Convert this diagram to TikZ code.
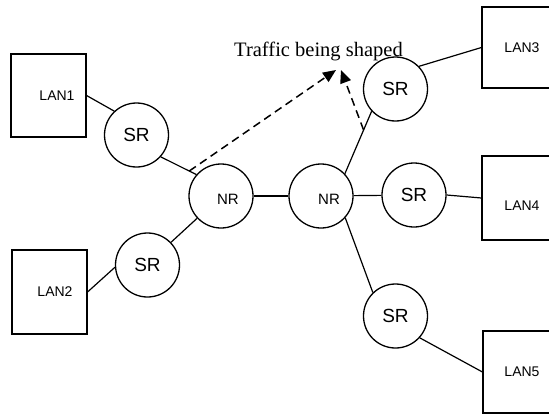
\documentclass[tikz,border=0pt]{standalone}
\usepackage{fontspec}
\setmainfont{Liberation Serif}
\setsansfont{Liberation Sans}
\usetikzlibrary{arrows.meta}

\begin{document}
\begin{tikzpicture}[x=1pt,y=-1pt,
  lanbox/.style={rectangle,draw,line width=1.1pt,inner sep=0pt},
  lantext/.style={font=\sffamily\fontsize{14}{14}\selectfont,inner sep=0pt},
  srnode/.style={circle,draw,line width=1.3pt,minimum size=64pt,inner sep=0pt,
    font=\sffamily\fontsize{19}{19}\selectfont},
  nrnode/.style={circle,draw,line width=1.3pt,minimum size=64pt,inner sep=0pt},
  nrtext/.style={font=\sffamily\fontsize{15}{15}\selectfont,inner sep=0pt},
  link/.style={line width=1.2pt},
  flow/.style={dashed,dash pattern=on 8pt off 5pt,line width=1.5pt,
    -{Triangle[length=13pt,width=11pt]}}]

\clip (0,0) rectangle (549,415);

% LAN segments
\node[lanbox,minimum width=75pt,minimum height=83pt] (lan1) at (48.5,95.5) {};
\node[lanbox,minimum width=75pt,minimum height=84pt] (lan2) at (49.5,292) {};
\node[lanbox,minimum width=80pt,minimum height=81pt] (lan3) at (522,47.5) {};
\node[lanbox,minimum width=80pt,minimum height=84pt] (lan4) at (522,198) {};
\node[lanbox,minimum width=80pt,minimum height=82pt] (lan5) at (523,372) {};

\node[lantext] (t1) at (57,96) {LAN1};
\node[lantext] (t2) at (55,292) {LAN2};
\node[lantext] (t3) at (522,48) {LAN3};
\node[lantext] (t4) at (522,206) {LAN4};
\node[lantext] (t5) at (522,372) {LAN5};

% edge (SR) and core (NR) routers
\node[srnode] (sr1) at (136.5,135) {SR};
\node[srnode] (sr2) at (147.5,265) {SR};
\node[srnode] (sr3) at (395.5,89) {SR};
\node[srnode] (sr4) at (414,195) {SR};
\node[srnode] (sr5) at (395.5,316) {SR};

\node[nrnode] (nr1) at (221,196) {};
\node[nrnode] (nr2) at (321,196) {};
\node[nrtext] (nt1) at (228,199) {NR};
\node[nrtext] (nt2) at (329,199) {NR};

% links
\draw[link] (lan1.east) -- (sr1.133);
\draw[link] (sr1.-42) -- coordinate[pos=0.8] (d1) (nr1.139);
\draw[link] (lan2.east) -- (sr2.184);
\draw[link] (sr2.44) -- (nr1.223);
\draw[link] (nr1) -- (nr2);
\draw[link] (nr2.43) -- coordinate[pos=0.7] (d2) (sr3.223);
\draw[link] (sr3.44) -- (lan3.west);
\draw[link] (nr2) -- (sr4);
\draw[link] (sr4.east) -- (lan4.west);
\draw[link] (nr2.-42) -- (sr5.134);
\draw[link] (sr5.-42) -- (lan5.west);

% shaped traffic
\coordinate (tipA) at (336,70);
\coordinate (tipB) at (341,70);
\draw[flow] (d1) -- (tipA);
\draw[flow] (d2) -- (tipB);

\node[font=\fontsize{20.5}{20.5}\selectfont,anchor=base,inner sep=0pt] (lbl) at (318.5,56) {Traffic being shaped};

\end{tikzpicture}
\end{document}
